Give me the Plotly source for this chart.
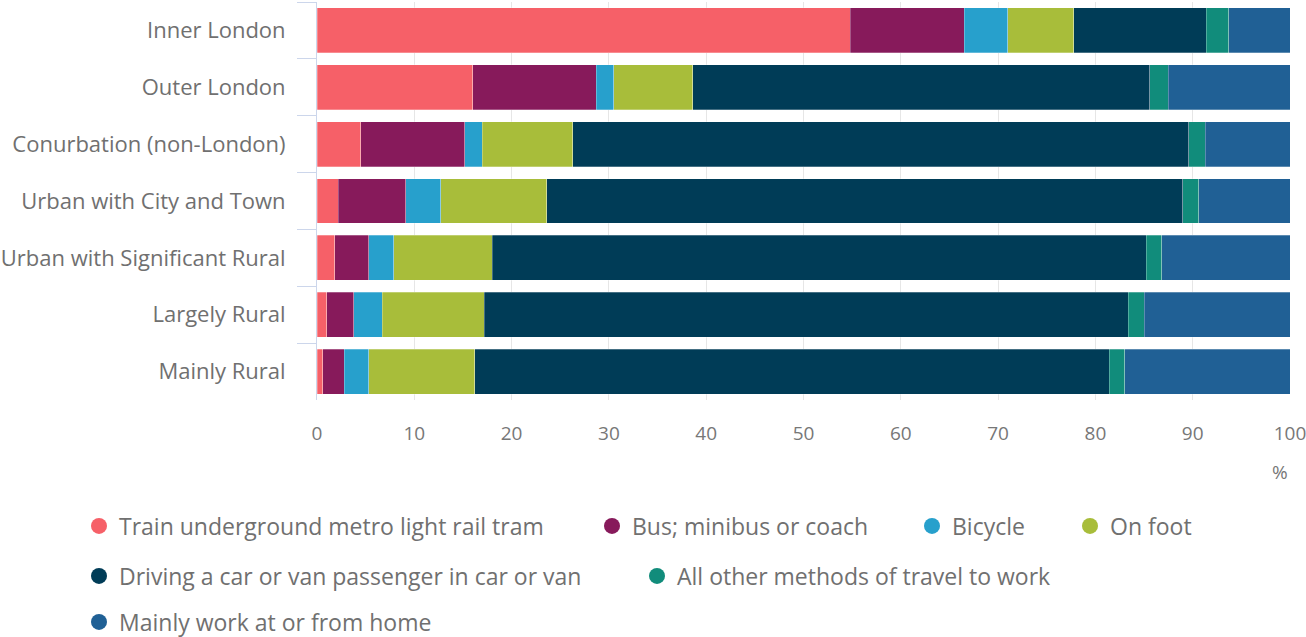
import plotly.graph_objects as go

categories = ["Inner London", "Outer London", "Conurbation (non-London)",
              "Urban with City and Town", "Urban with Significant Rural",
              "Largely Rural", "Mainly Rural"]

series_names = ["Train underground metro light rail tram", "Bus; minibus or coach",
                "Bicycle", "On foot", "Driving a car or van passenger in car or van",
                "All other methods of travel to work", "Mainly work at or from home"]

train = [54.8, 16.0, 4.5, 2.2, 1.8, 1.0, 0.6]
bus = [11.7, 12.7, 10.7, 6.9, 3.5, 2.8, 2.2]
bicycle = [4.5, 1.8, 1.8, 3.6, 2.6, 2.9, 2.5]
on_foot = [6.8, 8.1, 9.3, 10.9, 10.1, 10.5, 10.9]
driving = [13.6, 47.0, 63.3, 65.4, 67.2, 66.2, 65.2]
other = [2.3, 1.9, 1.7, 1.6, 1.6, 1.6, 1.6]
home = [6.3, 12.5, 8.7, 9.4, 13.2, 15.0, 17.0]

x_ticks = [0, 10, 20, 30, 40, 50, 60, 70, 80, 90, 100]

colors = ["#f66068", "#871a5b", "#27a0cc", "#a8bd3a", "#003c57", "#118c7b", "#206095"]
values = [train, bus, bicycle, on_foot, driving, other, home]

FONT = "Open Sans"
TXT = "#707070"

fig = go.Figure()
for name, vals, col in zip(series_names, values, colors):
    fig.add_trace(go.Bar(
        x=vals, y=categories, orientation="h", name=name,
        marker=dict(color=col, line=dict(color="rgba(255,255,255,0.45)", width=0.6)),
        showlegend=False, legendgroup=name,
    ))

# legend entries (circle markers), each in its own legend box positioned like the reference
W, H = 1306, 637
MT, MB = 2, 237
PH = H - MT - MB
legend_pos = [(119, 526), (632, 526), (952, 526), (1110, 526),
              (119, 576), (677, 576), (119, 622)]
legend_ids = ["legend", "legend2", "legend3", "legend4", "legend5", "legend6", "legend7"]
layout_legends = {}
for name, col, lid, (tx, ty) in zip(series_names, colors, legend_ids, legend_pos):
    fig.add_trace(go.Scatter(
        x=[0], y=[0], xaxis="x2", yaxis="y2", mode="markers", name=name,
        legendgroup=name, marker=dict(color=col, size=16, symbol="circle"),
        showlegend=True, legend=lid, hoverinfo="skip",
    ))
    layout_legends[lid] = dict(
        xref="container", yref="container",
        x=(tx - 40) / W, y=1 - ty / H, xanchor="left", yanchor="middle",
        bgcolor="rgba(0,0,0,0)", borderwidth=0,
        font=dict(family=FONT, size=23, color=TXT),
        itemclick=False, itemdoubleclick=False,
    )

fig.update_layout(
    width=W, height=H,
    margin=dict(l=317, r=16, t=MT, b=MB, autoexpand=False),
    paper_bgcolor="white", plot_bgcolor="white",
    barmode="stack", bargap=0.21,
    font=dict(family=FONT, size=19, color=TXT),
    xaxis=dict(
        range=[0, 100], tickvals=x_ticks, ticktext=[str(v) for v in x_ticks],
        showgrid=True, gridcolor="#e6e6e6", gridwidth=1, zeroline=False,
        showline=False, ticks="", ticklabelstandoff=20, ticklabeloverflow="allow",
        tickfont=dict(family=FONT, size=19, color="#777777"),
        fixedrange=True, automargin=False,
    ),
    yaxis=dict(
        type="category", categoryorder="array", categoryarray=categories,
        autorange="reversed", showgrid=False, zeroline=False,
        showline=True, linecolor="#ccd6eb", linewidth=1,
        ticks="outside", tickson="boundaries", ticklen=19, tickcolor="#ccd6eb",
        tickwidth=1.2, ticklabelstandoff=26,
        tickfont=dict(family=FONT, size=22, color=TXT),
        fixedrange=True, automargin=False,
    ),
    xaxis2=dict(domain=[0, 0.01], range=[10, 11], visible=False, fixedrange=True,
                anchor="y2"),
    yaxis2=dict(domain=[0, 0.01], range=[10, 11], visible=False, fixedrange=True,
                anchor="x2"),
    annotations=[dict(
        text="%", xref="paper", yref="paper", x=1, y=-(472 - (H - MB)) / PH,
        xanchor="right", yanchor="middle", showarrow=False,
        font=dict(family=FONT, size=19, color="#777777"),
    )],
    **layout_legends,
)

fig.write_html("out.html")
